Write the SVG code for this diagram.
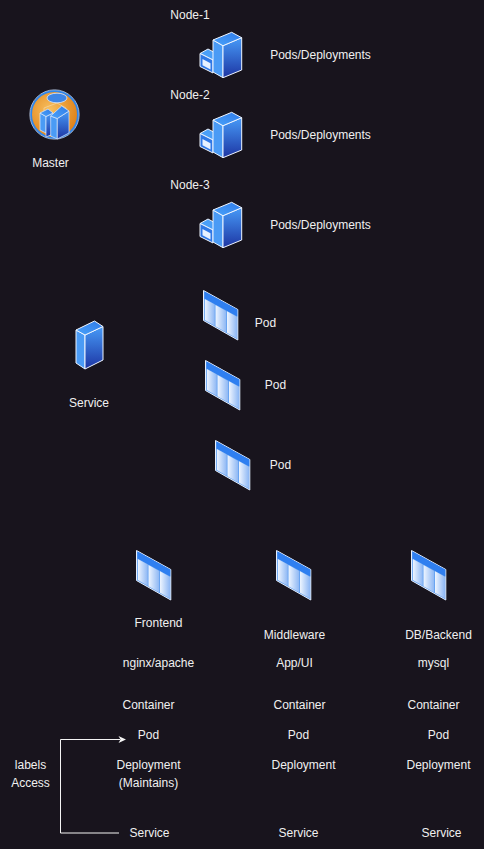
<svg xmlns="http://www.w3.org/2000/svg" width="484" height="849" viewBox="0 0 484 849">
<style>
text{font-family:"Liberation Sans",Arial,sans-serif;font-size:12px;fill:#f0f0f0;text-anchor:middle}
.e{stroke:#eef5ff;stroke-width:1;stroke-linejoin:round}
</style>
<defs>
<linearGradient id="bl" x1="0" y1="0" x2="0" y2="1"><stop offset="0" stop-color="#479af7"/><stop offset="1" stop-color="#1d35a3"/></linearGradient>
<linearGradient id="tp" x1="0" y1="1" x2="1" y2="0"><stop offset="0" stop-color="#4aa2fa"/><stop offset="1" stop-color="#2f7be8"/></linearGradient>
<linearGradient id="col" x1="0" y1="0" x2="1" y2="0"><stop offset="0" stop-color="#eef5ff"/><stop offset="1" stop-color="#8db7f4"/></linearGradient>
<radialGradient id="or" cx="0.4" cy="0.4" r="0.7"><stop offset="0" stop-color="#f8c060"/><stop offset="1" stop-color="#dc7a10"/></radialGradient>
<g id="nodeIcon">
<polygon class="e" points="200,53.500 208,49 220,55.500 213,60" fill="#4a9ff8"/>
<polygon class="e" points="200,53.500 213,60 213,73 200,66.500" fill="#2f78e6"/>
<polygon points="202.500,59 210.500,63.200 210.500,69.500 202.500,65.300" fill="#e6f1ff"/>
<polygon class="e" points="213,40 223,45.700 223,77.700 213,72" fill="#4a9bf5"/>
<polygon class="e" points="223,45.700 241.700,37.700 241.700,70 223,77.700" fill="url(#bl)"/>
<polygon class="e" points="213,40 231.700,32.300 241.700,37.700 223,45.700" fill="url(#tp)"/>
</g>
<g id="podIcon">
<polygon points="203.500,290.500 237.800,309.500 237.800,340 203.500,320.500" fill="#5a9cf0" stroke="#e6f0ff" stroke-width="1" stroke-linejoin="round"/>
<polygon points="204.500,291.500 237.300,309.500 237.300,316.500 204.500,298.500" fill="#2f7ff0"/>
<polygon points="204.800,299 214.800,304.500 214.800,325.800 204.800,320" fill="url(#col)"/>
<polygon points="215.500,305 226.300,310.900 226.300,332.500 215.500,326.300" fill="url(#col)"/>
<polygon points="227,311.300 237,316.800 237,338.500 227,332.800" fill="url(#col)"/>
</g>
</defs>
<rect width="484" height="849" fill="#18141d"/>
<g id="connectors">
<polyline points="119,833 60.500,833 60.500,739.500 120,739.500" fill="none" stroke="#f4f4f4" stroke-width="1"/>
<polygon points="126,739.500 118.500,736 120.500,739.500 118.500,743" fill="#f4f4f4"/>
</g>
<g id="master">
<circle cx="54.500" cy="114.500" r="23.500" fill="url(#or)" stroke="#2f86ec" stroke-width="2"/>
<circle cx="54.500" cy="114.500" r="24.700" fill="none" stroke="#cfe3ff" stroke-width="0.700"/>
<path d="M44,108 V125 M66,108 V125 M44,108 L57,103 L66,108" fill="none" stroke="#f4d9a8" stroke-width="0.700"/>
<ellipse cx="57" cy="98" rx="10" ry="4.800" fill="#3f86e6" stroke="#dbe9ff" stroke-width="0.800"/>
<polygon points="40,113 46,116.500 46,133 40,130" fill="#4a9bf5" stroke="#dbe9ff" stroke-width="0.700"/>
<polygon points="46,116.500 53,113 53,134 46,137" fill="url(#bl)" stroke="#dbe9ff" stroke-width="0.700"/>
<polygon points="40,113 48,109 53,113 46,116.500" fill="url(#tp)" stroke="#dbe9ff" stroke-width="0.700"/>
<polygon points="50.700,116 57.300,118.500 57.300,139 50.700,136" fill="#4a9bf5" stroke="#dbe9ff" stroke-width="0.700"/>
<polygon points="57.300,118.500 69,111 69,133 57.300,139" fill="url(#bl)" stroke="#dbe9ff" stroke-width="0.700"/>
<polygon points="50.700,116 61.700,106 69,111 57.300,118.500" fill="url(#tp)" stroke="#dbe9ff" stroke-width="0.700"/>
<text x="50.500" y="167">Master</text>
</g>
<g id="node-1"><use href="#nodeIcon"/><text x="190" y="19">Node-1</text><text x="320.500" y="59">Pods/Deployments</text></g>
<g id="node-2"><use href="#nodeIcon" y="80"/><text x="190" y="99">Node-2</text><text x="320.500" y="139">Pods/Deployments</text></g>
<g id="node-3"><use href="#nodeIcon" y="170"/><text x="190" y="189">Node-3</text><text x="320.500" y="229">Pods/Deployments</text></g>
<g id="service">
<polygon class="e" points="76,330 85,335 85,369 76,363" fill="#4a9bf5"/>
<polygon class="e" points="85,335 103,326.500 103,360 85,369" fill="url(#bl)"/>
<polygon class="e" points="76,330 94.500,321 103,326.500 85,335" fill="url(#tp)"/>
<text x="89" y="407">Service</text>
</g>
<g id="pod-1"><use href="#podIcon"/><text x="265.500" y="327">Pod</text></g>
<g id="pod-2"><use href="#podIcon" x="2" y="70"/><text x="275.500" y="389">Pod</text></g>
<g id="pod-3"><use href="#podIcon" x="12" y="150"/><text x="280.500" y="469">Pod</text></g>
<g id="frontend"><use href="#podIcon" x="-67" y="260"/>
<text x="158.500" y="627">Frontend</text><text x="158.500" y="667">nginx/apache</text><text x="148.500" y="709">Container</text><text x="148.500" y="739">Pod</text><text x="148.500" y="769">Deployment</text><text x="148.500" y="787">(Maintains)</text><text x="149.500" y="837">Service</text></g>
<g id="middleware"><use href="#podIcon" x="73" y="260"/>
<text x="294.500" y="639">Middleware</text><text x="294.500" y="667">App/UI</text><text x="299.500" y="709">Container</text><text x="298.500" y="739">Pod</text><text x="303.500" y="769">Deployment</text><text x="298.500" y="837">Service</text></g>
<g id="backend"><use href="#podIcon" x="208" y="260"/>
<text x="438.500" y="639">DB/Backend</text><text x="433.500" y="667">mysql</text><text x="433.500" y="709">Container</text><text x="438.500" y="739">Pod</text><text x="438.500" y="769">Deployment</text><text x="441.500" y="837">Service</text></g>
<g id="labels"><text x="30.500" y="769">labels</text><text x="30.500" y="787">Access</text></g>
</svg>
